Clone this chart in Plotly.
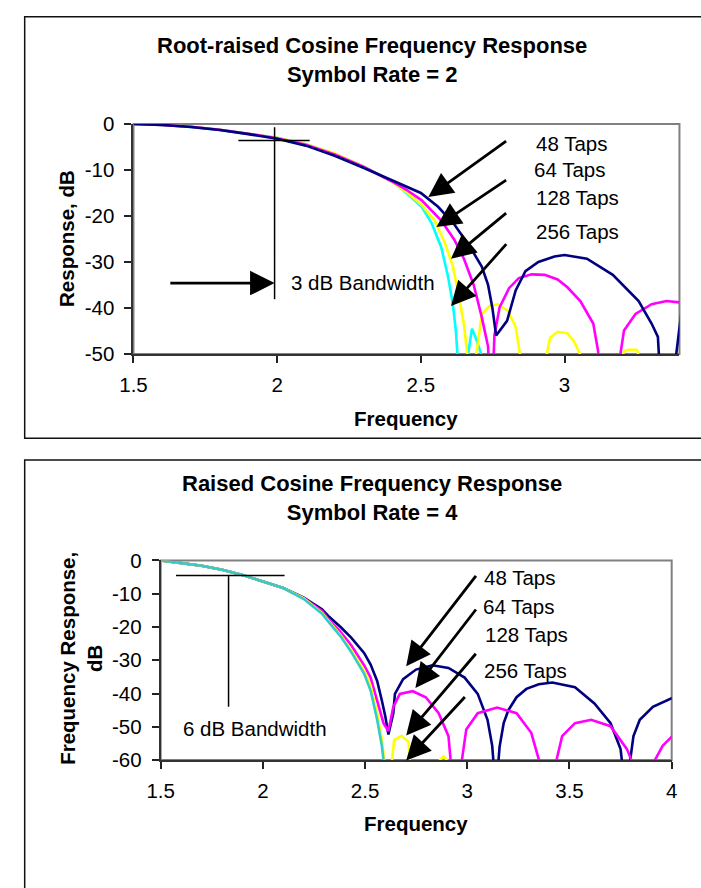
import plotly.graph_objects as go

# ---------------------------------------------------------------------------
# Root-raised cosine filter, symbol rate = 2 (frequency, response in dB)
# ---------------------------------------------------------------------------
rrc_48_freq = [1.5, 1.6, 1.7, 1.8, 1.9, 2.0, 2.1, 2.2, 2.3, 2.4, 2.5, 2.56,
               2.616, 2.672, 2.712, 2.734, 2.749, 2.762, 2.80, 2.83, 2.864, 2.909,
               2.965, 3.0, 3.078, 3.168, 3.258, 3.303, 3.325, 3.355, 3.385, 3.42]
rrc_48_db = [0, -0.2, -0.65, -1.3, -2.2, -3.2, -4.7, -6.9, -9.5, -12.3, -15.0, -18.0,
             -21.8, -26.8, -31.0, -35.0, -40.0, -46.0, -42.8, -36.2, -32.0, -30.0,
             -28.8, -28.5, -29.3, -32.8, -38.5, -43.4, -46.3, -80.0, -52.0, -34.0]

rrc_64_freq = [1.5, 1.6, 1.7, 1.8, 1.9, 2.0, 2.1, 2.2, 2.3, 2.4, 2.45, 2.503, 2.571,
               2.616, 2.65, 2.684, 2.712, 2.734, 2.745, 2.756, 2.774, 2.807, 2.841,
               2.886, 2.931, 2.976, 3.01, 3.055, 3.10, 3.117, 3.135, 3.17, 3.207,
               3.247, 3.303, 3.355, 3.40]
rrc_64_db = [0, -0.2, -0.6, -1.25, -2.1, -3.1, -4.5, -6.6, -9.3, -12.5, -14.3, -16.6, -21.0,
             -25.1, -29.3, -35.0, -42.0, -48.4, -65.0, -46.0, -39.9, -35.7, -33.5,
             -32.7, -32.8, -33.8, -35.5, -38.5, -43.4, -49.4, -68.0, -60.0, -44.9,
             -41.3, -39.2, -38.5, -38.8]

rrc_128_freq = [1.5, 1.6, 1.7, 1.8, 1.9, 2.0, 2.1, 2.2, 2.3, 2.4, 2.45, 2.503, 2.548,
                2.582, 2.611, 2.633, 2.65, 2.672, 2.685, 2.712, 2.74, 2.768, 2.802,
                2.83, 2.85, 2.89, 2.925, 2.95, 2.976, 3.01, 3.033, 3.065, 3.10, 3.17,
                3.207, 3.224, 3.252, 3.265, 3.30, 3.35, 3.40]
rrc_128_db = [0, -0.2, -0.6, -1.25, -2.1, -3.0, -4.4, -6.4, -9.2, -12.6, -14.8, -17.6, -21.0,
              -25.6, -30.8, -37.5, -43.6, -56.0, -54.0, -41.3, -39.5, -39.2, -40.6,
              -44.1, -52.0, -65.0, -54.0, -46.5, -45.2, -45.5, -47.3, -51.5, -62.0, -58.0,
              -49.4, -49.1, -49.1, -52.0, -60.0, -58.0, -56.0]

rrc_256_freq = [1.5, 1.6, 1.7, 1.8, 1.9, 2.0, 2.1, 2.2, 2.3, 2.4, 2.45, 2.503, 2.537,
                2.571, 2.594, 2.611, 2.622, 2.64, 2.655, 2.678, 2.694, 2.715, 2.75]
rrc_256_db = [0, -0.2, -0.62, -1.28, -2.15, -3.0, -4.4, -6.5, -9.2, -12.5, -15.0, -18.0, -21.5,
              -26.8, -33.0, -39.0, -45.0, -62.0, -54.0, -44.5, -47.0, -51.0, -66.0]

# ---------------------------------------------------------------------------
# Raised cosine filter, symbol rate = 4
# ---------------------------------------------------------------------------
rc_48_freq = [1.5, 1.6, 1.7, 1.8, 1.9, 2.0, 2.1, 2.2, 2.289, 2.32, 2.38, 2.432, 2.495,
              2.527, 2.559, 2.582, 2.599, 2.614, 2.638, 2.646, 2.686, 2.749, 2.829,
              2.908, 2.987, 3.051, 3.099, 3.122, 3.14, 3.158, 3.178, 3.201, 3.241,
              3.289, 3.35, 3.416, 3.527, 3.622, 3.701, 3.75, 3.775, 3.813, 3.844,
              3.908, 4.003]
rc_48_db = [0, -0.7, -1.6, -2.8, -4.4, -6.3, -8.3, -11.2, -14.7, -16.7, -20.0, -23.2, -27.8,
            -31.3, -36.2, -42.1, -46.9, -52.3, -45.9, -40.1, -35.7, -32.8, -31.5,
            -32.3, -35.2, -40.1, -47.9, -55.7, -70.0, -56.0, -48.9, -45.0, -41.1,
            -38.6, -37.2, -36.7, -38.1, -43.0, -48.9, -56.7, -70.0, -52.8, -47.9,
            -44.0, -41.3]

rc_64_freq = [1.5, 1.6, 1.7, 1.8, 1.9, 2.0, 2.1, 2.2, 2.289, 2.32, 2.38, 2.432, 2.495,
              2.527, 2.559, 2.59, 2.614, 2.638, 2.67, 2.733, 2.797, 2.86, 2.908, 2.93,
              2.955, 2.995, 3.051, 3.146, 3.241, 3.313, 3.36, 3.40, 3.425, 3.464,
              3.527, 3.606, 3.701, 3.781, 3.83, 3.87, 3.90, 3.956, 4.003]
rc_64_db = [0, -0.7, -1.6, -2.8, -4.4, -6.3, -8.3, -11.3, -15.2, -17.6, -21.5, -25.5, -31.5,
            -35.2, -42.1, -48.9, -51.3, -44.0, -40.1, -39.3, -41.1, -45.9, -52.8, -68.0,
            -68.0, -50.8, -45.9, -44.2, -45.9, -51.8, -62.0, -70.0, -63.0, -52.8,
            -48.9, -47.9, -49.8, -56.7, -64.0, -70.0, -62.0, -55.7, -52.8]

rc_128_freq = [1.5, 1.6, 1.7, 1.8, 1.9, 2.0, 2.1, 2.2, 2.289, 2.32, 2.38, 2.432, 2.495,
               2.527, 2.559, 2.582, 2.605, 2.625, 2.642, 2.678, 2.712, 2.73, 2.79,
               2.85, 2.884, 2.915, 2.95]
rc_128_db = [0, -0.7, -1.6, -2.8, -4.4, -6.3, -8.3, -11.4, -15.8, -18.1, -22.4, -27.0, -33.0,
             -37.7, -45.9, -53.8, -66.0, -64.0, -54.0, -52.7, -54.5, -68.0, -70.0,
             -61.0, -58.9, -61.0, -70.0]

rc_256_freq = [1.5, 1.6, 1.7, 1.8, 1.9, 2.0, 2.1, 2.2, 2.289, 2.32, 2.38, 2.432, 2.495,
               2.527, 2.559, 2.582, 2.605, 2.65]
rc_256_db = [0, -0.7, -1.6, -2.8, -4.4, -6.3, -8.3, -11.6, -16.0, -18.4, -22.8, -27.5, -34.0,
             -39.1, -47.9, -55.7, -68.0, -72.0]

tap_labels = ["48 Taps", "64 Taps", "128 Taps", "256 Taps"]

# axis ticks
rrc_xticks = [1.5, 2, 2.5, 3]
rrc_yticks = [0, -10, -20, -30, -40, -50]
rc_xticks = [1.5, 2, 2.5, 3, 3.5, 4]
rc_yticks = [0, -10, -20, -30, -40, -50, -60]

# bandwidth markers (frequency / level in dB)
bw3_level, bw3_span, bw3_freq, bw3_drop, bw3_arrow = -3.6, (1.865, 2.113), 1.991, (-0.7, -38.1), (1.623, -34.6)
bw6_level, bw6_span, bw6_freq, bw6_drop = -4.5, (1.575, 2.106), 1.832, (-4.5, -44.0)

# arrow tails / tips pointing at each curve: (tail f, tail dB, tip f, tip dB)
rrc_arrows = [(2.802, -3.5, 2.526, -15.9), (2.802, -12.0, 2.554, -22.4),
              (2.802, -19.1, 2.605, -29.3), (2.802, -25.8, 2.605, -39.6)]
rc_arrows = [(3.048, -4.2, 2.701, -31.8), (3.048, -14.3, 2.746, -38.3),
             (3.048, -27.6, 2.701, -52.6), (2.995, -40.6, 2.701, -60.1)]

# ---------------------------------------------------------------------------
W, H = 701, 888
FONT = "Liberation Sans, Arial, Helvetica, sans-serif"
NAVY, MAGENTA, YELLOW, CYAN, TEAL = "#000080", "#FF00FF", "#FFFF00", "#00FFFF", "#33CCCC"


def pxx(x):
    return x / W


def pxy(y):
    return 1 - y / H


fig = go.Figure()

top_series = [(rrc_256_freq, rrc_256_db, CYAN), (rrc_128_freq, rrc_128_db, YELLOW),
              (rrc_64_freq, rrc_64_db, MAGENTA), (rrc_48_freq, rrc_48_db, NAVY)]
for f, db, c in top_series:
    fig.add_trace(go.Scatter(x=f, y=db, mode="lines", line=dict(color=c, width=2.6),
                             xaxis="x", yaxis="y", showlegend=False, hoverinfo="skip"))

bottom_series = [(rc_48_freq, rc_48_db, NAVY), (rc_64_freq, rc_64_db, MAGENTA),
                 (rc_128_freq, rc_128_db, YELLOW), (rc_256_freq, rc_256_db, TEAL)]
for f, db, c in bottom_series:
    fig.add_trace(go.Scatter(x=f, y=db, mode="lines", line=dict(color=c, width=2.6),
                             xaxis="x2", yaxis="y2", showlegend=False, hoverinfo="skip"))

axis_common = dict(showgrid=False, zeroline=False, ticks="outside", ticklen=7, tickwidth=1.5,
                   tickcolor="#222", showline=True, linecolor="#333", linewidth=2,
                   tickfont=dict(family=FONT, size=20.5, color="black"), fixedrange=True)

fig.update_layout(
    width=W, height=H, autosize=False,
    margin=dict(l=0, r=0, t=0, b=0, pad=0),
    paper_bgcolor="white", plot_bgcolor="white",
    xaxis=dict(domain=[pxx(123), pxx(685)], range=[1.5, 3.4], anchor="y",
               tickvals=rrc_xticks, ticktext=[f"{v:g}" for v in rrc_xticks],
               ticklabelstandoff=4, **axis_common),
    yaxis=dict(domain=[pxy(351), pxy(115)], range=[-50, 0], anchor="x",
               tickvals=rrc_yticks, ticktext=[f"{v:g}" for v in rrc_yticks],
               ticklabelstandoff=6, **axis_common),
    xaxis2=dict(domain=[pxx(151), pxx(677)], range=[1.5, 4], anchor="y2",
                tickvals=rc_xticks, ticktext=[f"{v:g}" for v in rc_xticks],
                ticklabelstandoff=4, **axis_common),
    yaxis2=dict(domain=[pxy(768), pxy(563)], range=[-60, 0], anchor="x2",
                tickvals=rc_yticks, ticktext=[f"{v:g}" for v in rc_yticks],
                ticklabelstandoff=6, **axis_common),
)

shapes = []
# chart frames
shapes.append(dict(type="rect", xref="paper", yref="paper", x0=pxx(11), x1=1.05,
                   y0=pxy(437.5), y1=pxy(5), line=dict(color="#111", width=1.5)))
shapes.append(dict(type="rect", xref="paper", yref="paper", x0=pxx(11), x1=1.05,
                   y0=-0.05, y1=pxy(460), line=dict(color="#111", width=1.5)))
# plot-area borders
for xr, yr in (("x domain", "y domain"), ("x2 domain", "y2 domain")):
    shapes.append(dict(type="rect", xref=xr, yref=yr, x0=0, x1=1, y0=0, y1=1,
                       line=dict(color="#808080", width=2), layer="below"))
# bandwidth marker lines
mk = dict(color="black", width=1.5)
shapes.append(dict(type="line", xref="x", yref="y", x0=bw3_span[0], x1=bw3_span[1],
                   y0=bw3_level, y1=bw3_level, line=mk))
shapes.append(dict(type="line", xref="x", yref="y", x0=bw3_freq, x1=bw3_freq,
                   y0=bw3_drop[0], y1=bw3_drop[1], line=mk))
shapes.append(dict(type="line", xref="x2", yref="y2", x0=bw6_span[0], x1=bw6_span[1],
                   y0=bw6_level, y1=bw6_level, line=mk))
shapes.append(dict(type="line", xref="x2", yref="y2", x0=bw6_freq, x1=bw6_freq,
                   y0=bw6_drop[0], y1=bw6_drop[1], line=mk))
fig.update_layout(shapes=shapes)

ann = []
arrow_style = dict(showarrow=True, arrowhead=2, arrowsize=1.75, arrowwidth=2.8,
                   arrowcolor="black", text="", standoff=0)
ann.append(dict(xref="x", yref="y", axref="x", ayref="y", x=bw3_freq, y=bw3_arrow[1],
                ax=bw3_arrow[0], ay=bw3_arrow[1], **arrow_style))
for tf, tdb, hf, hdb in rrc_arrows:
    ann.append(dict(xref="x", yref="y", axref="x", ayref="y", x=hf, y=hdb, ax=tf, ay=tdb,
                    **arrow_style))
for tf, tdb, hf, hdb in rc_arrows:
    ann.append(dict(xref="x2", yref="y2", axref="x2", ayref="y2", x=hf, y=hdb, ax=tf, ay=tdb,
                    **arrow_style))


def label(text, x, y, size=20.5, bold=False, xanchor="left", angle=0):
    t = f"<b>{text}</b>" if bold else text
    return dict(xref="paper", yref="paper", x=pxx(x), y=pxy(y), text=t, showarrow=False,
                xanchor=xanchor, yanchor="middle", textangle=angle,
                font=dict(family=FONT, size=size, color="black"))


# titles
ann.append(label("<b>Root-raised Cosine Frequency Response</b><br><b>Symbol Rate = 2</b>", 368.5, 49,
                 size=22, xanchor="center"))
ann.append(label("<b>Raised Cosine Frequency Response</b><br><b>Symbol Rate = 4</b>", 368.5, 499,
                 size=22, xanchor="center"))
# axis titles
ann.append(label("Frequency", 404, 417, bold=True, xanchor="center"))
ann.append(label("Frequency", 414, 833, bold=True, xanchor="center"))
ann.append(label("Response, dB", 54.5, 232, bold=True, xanchor="center", angle=-90))
ann.append(label("<b>Frequency Response,</b><br><b>dB</b>", 69, 664, xanchor="center", angle=-90))
# bandwidth labels
ann.append(label("3 dB Bandwidth", 283, 278))
ann.append(label("6 dB Bandwidth", 171.5, 735.5))
# tap labels
for txt, (x, y) in zip(tap_labels, [(535, 134.5), (533.3, 162.2), (535, 190.5), (535, 225.5)]):
    ann.append(label(txt, x, y))
for txt, (x, y) in zip(tap_labels, [(481.7, 580.5), (481, 610.5), (482.3, 639), (482, 675.5)]):
    ann.append(label(txt, x, y))

fig.update_layout(annotations=ann)

fig.write_html("out.html", include_plotlyjs=True, config={"displayModeBar": False})
